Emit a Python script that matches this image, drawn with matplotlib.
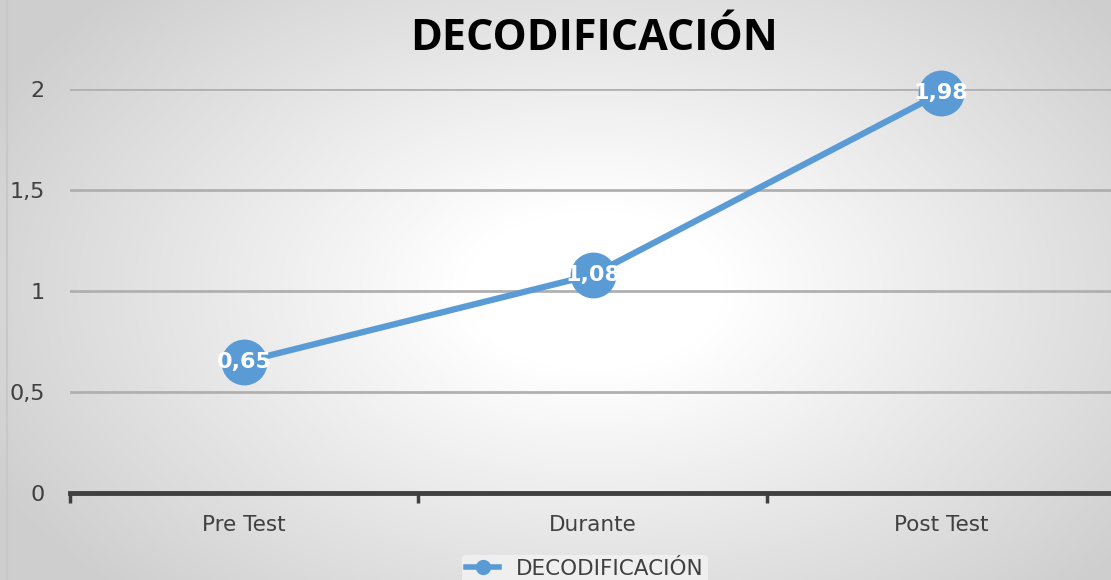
import numpy as np
import matplotlib
matplotlib.use("Agg")
import matplotlib.pyplot as plt
from matplotlib.lines import Line2D

categories = ["Pre Test", "Durante", "Post Test"]
values = [0.65, 1.08, 1.98]
value_labels = ["0,65", "1,08", "1,98"]
yticks = [0, 0.5, 1, 1.5, 2]
ytick_labels = ["0", "0,5", "1", "1,5", "2"]
series_name = "DECODIFICACIÓN"
title = "DECODIFICACIÓN"

W, H = 1111, 580
fig = plt.figure(figsize=(W / 100, H / 100), dpi=100)

# radial gradient background
bg = fig.add_axes([0, 0, 1, 1])
yy, xx = np.mgrid[0:H, 0:W]
r = np.sqrt(((xx - 593) / 650.0) ** 2 + ((yy - 290) / 400.0) ** 2)
g = np.clip(1.0 - 0.18 * np.clip(r - 0.2, 0, None) / 0.8, 0.81, 1.0)
img = np.dstack([g, g, g])
bg.imshow(img, extent=[0, W, H, 0], aspect="auto")
bg.plot([7, 7], [0, H], color="#c8c8c8", lw=1.5)
bg.set_xlim(0, W)
bg.set_ylim(H, 0)
bg.axis("off")

color = "#5b9bd5"
txt = "#404040"

left = 70 / W
right = 1115 / W
bottom = 1 - 493 / H
top = 1 - 89 / H
ax = fig.add_axes([left, bottom, right - left, top - bottom])
ax.set_facecolor("none")
x = np.arange(len(categories))
ax.set_xlim(-0.5, len(categories) - 0.5)
ax.set_ylim(0, 2)
ax.set_yticks(yticks)
ax.set_yticklabels(ytick_labels)
for yv in yticks[1:]:
    ax.axhline(yv, color="#b0b0b0", lw=2, zorder=1)
ax.plot(x, values, color=color, lw=4.5, marker="o", markersize=32,
        solid_capstyle="round", zorder=3, clip_on=False)
for xi, v, lab in zip(x, values, value_labels):
    ax.text(xi, v, lab, ha="center", va="center", color="white",
            fontsize=16, fontweight="bold", family="DejaVu Sans", zorder=4)

for s in ["top", "right", "left"]:
    ax.spines[s].set_visible(False)
ax.spines["bottom"].set_color(txt)
ax.spines["bottom"].set_linewidth(3.5)
ax.set_xticks(x)
ax.set_xticklabels(categories)
ax.set_xticks([-0.5, 0.5, 1.5, 2.5], minor=True)
ax.tick_params(axis="x", which="major", length=0, pad=16, labelsize=15.5, labelcolor=txt)
ax.tick_params(axis="x", which="minor", length=7, width=2.5, color=txt, direction="out")
ax.tick_params(axis="y", length=0, pad=18, labelsize=16, labelcolor=txt)
for t in ax.get_xticklabels() + ax.get_yticklabels():
    t.set_family("DejaVu Sans")

fig.text(594 / W, 1 - 38 / H, title, ha="center", va="center",
         fontsize=31, fontweight="bold", color="black", family="Open Sans")

handle = Line2D([0], [0], color=color, lw=4, marker="o", markersize=10)
leg = fig.legend([handle], [series_name], loc="center", bbox_to_anchor=(585 / W, 1 - 569 / H),
                 frameon=True, handlelength=1.5, borderpad=0.2,
                 prop={"family": "DejaVu Sans", "size": 15.5})
leg.get_frame().set_facecolor("#efefef")
leg.get_frame().set_edgecolor("none")
leg.get_frame().set_alpha(1)
for t in leg.get_texts():
    t.set_color(txt)

fig.savefig("out.png", dpi=100)
